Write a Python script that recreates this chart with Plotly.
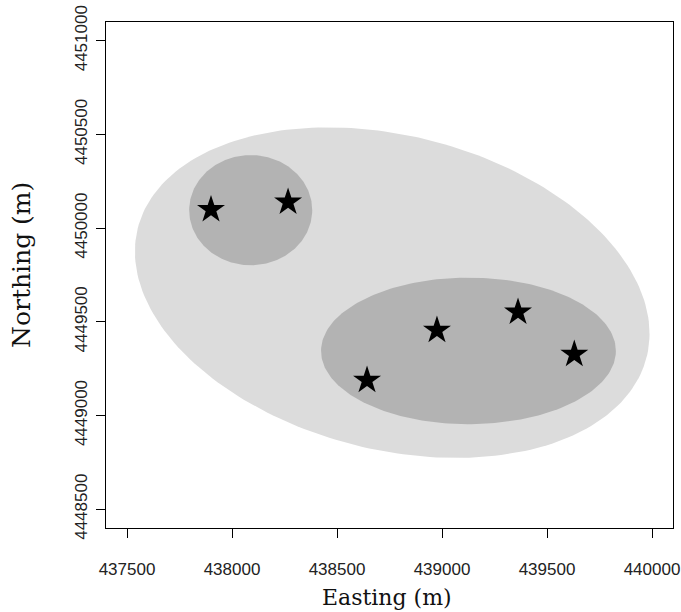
import numpy as np
import plotly.graph_objects as go

# Station locations (Easting, Northing in m)
star_easting = [437900, 438267, 438643, 438976, 439362, 439630]
star_northing = [4450099, 4450139, 4449188, 4449455, 4449552, 4449327]

# Ellipse parameters: center x, center y, semi-axis a, semi-axis b, rotation (deg)
outer_ellipse = dict(cx=438763, cy=4449656, a=1261, b=830, angle=-18.3)
cluster_ellipses = [
    dict(cx=438089, cy=4450096, a=293, b=294, angle=0.0),
    dict(cx=439126, cy=4449345, a=702, b=391, angle=0.0),
]

x_ticks = [437500, 438000, 438500, 439000, 439500, 440000]
y_ticks = [4448500, 4449000, 4449500, 4450000, 4450500, 4451000]

LIGHT = "#dcdcdc"
DARK = "#b3b3b3"


def ellipse_path(e, n=240):
    t = np.linspace(0, 2 * np.pi, n)
    th = np.radians(e["angle"])
    ex = e["a"] * np.cos(t)
    ey = e["b"] * np.sin(t)
    x = e["cx"] + ex * np.cos(th) - ey * np.sin(th)
    y = e["cy"] + ex * np.sin(th) + ey * np.cos(th)
    return x, y


fig = go.Figure()

ox, oy = ellipse_path(outer_ellipse)
fig.add_trace(go.Scatter(x=ox, y=oy, mode="lines", fill="toself",
                         fillcolor=LIGHT, line=dict(width=0, color=LIGHT),
                         hoverinfo="skip", showlegend=False))
for e in cluster_ellipses:
    ex, ey = ellipse_path(e)
    fig.add_trace(go.Scatter(x=ex, y=ey, mode="lines", fill="toself",
                             fillcolor=DARK, line=dict(width=0, color=DARK),
                             hoverinfo="skip", showlegend=False))

fig.add_trace(go.Scatter(x=star_easting, y=star_northing, mode="markers",
                         marker=dict(symbol="star", size=21, color="black",
                                     line=dict(width=0)),
                         showlegend=False))

tick_font = dict(family="Liberation Sans, Arial, sans-serif", size=17, color="#222222")
xtitle_font = dict(family="DejaVu Serif, serif", size=22, color="#111111")
ytitle_font = dict(family="DejaVu Serif, serif", size=25, color="#111111")

fig.update_layout(
    width=681, height=612,
    margin=dict(l=106, r=8, t=22, b=84, autoexpand=False),
    paper_bgcolor="white", plot_bgcolor="white",
    xaxis=dict(range=[437400, 440100], tickvals=x_ticks,
               ticktext=[str(v) for v in x_ticks], automargin=False,
               showgrid=False, zeroline=False, showline=True, mirror=True,
               linecolor="black", linewidth=1, ticks="outside", ticklen=9,
               tickcolor="black", tickfont=tick_font, ticklabelstandoff=17),
    yaxis=dict(range=[4448400, 4451100], tickvals=y_ticks,
               ticktext=[str(v) for v in y_ticks], tickangle=-90,
               automargin=False,
               showgrid=False, zeroline=False, showline=True, mirror=True,
               linecolor="black", linewidth=1, ticks="outside", ticklen=9,
               tickcolor="black", tickfont=tick_font, ticklabelstandoff=2),
    annotations=[
        dict(text="Easting (m)", xref="paper", yref="paper", x=0.495, y=-0.138,
             xanchor="center", yanchor="middle", showarrow=False, font=xtitle_font),
        dict(text="Northing (m)", xref="paper", yref="paper", x=-0.148, y=0.52,
             xanchor="center", yanchor="middle", textangle=-90, showarrow=False,
             font=ytitle_font),
    ],
)

fig.write_html("out.html", config={"displayModeBar": False},
               post_script="document.body.style.margin='0';")
